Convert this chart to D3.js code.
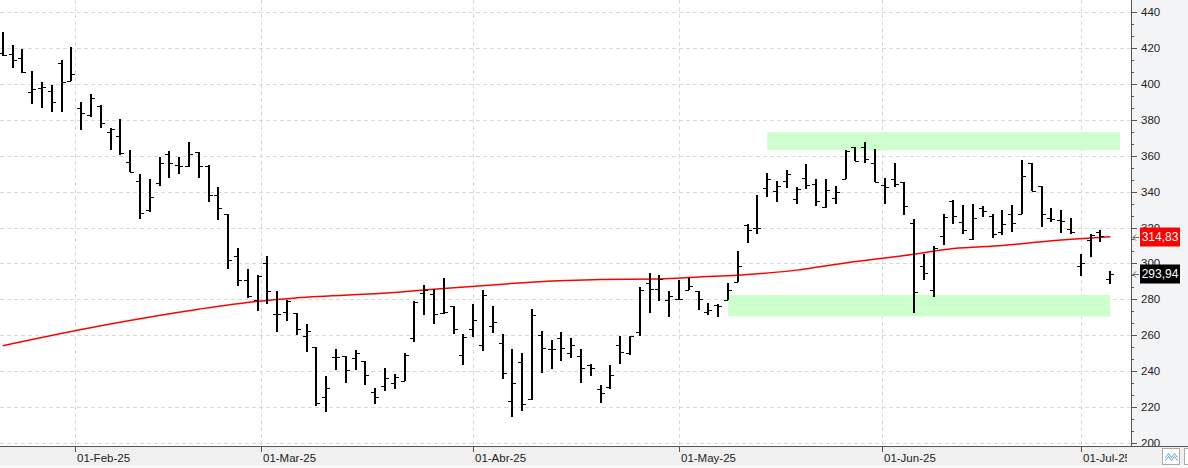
<!DOCTYPE html>
<html>
<head>
<meta charset="utf-8">
<script src="https://cdn.jsdelivr.net/npm/d3@7"></script>
<style>
  html, body { margin: 0; padding: 0; background: #fff; }
  svg { display: block; font-family: "Liberation Sans", Arial, sans-serif; }
</style>
</head>
<body>
<div id="chart"></div>
<script>
// trading days shown on the chart
const dates = [
  "2025-01-22","2025-01-23","2025-01-24","2025-01-27","2025-01-28","2025-01-29","2025-01-30","2025-01-31",
  "2025-02-03","2025-02-04","2025-02-05","2025-02-06","2025-02-07","2025-02-10","2025-02-11","2025-02-12","2025-02-13","2025-02-14",
  "2025-02-18","2025-02-19","2025-02-20","2025-02-21","2025-02-24","2025-02-25","2025-02-26","2025-02-27","2025-02-28",
  "2025-03-03","2025-03-04","2025-03-05","2025-03-06","2025-03-07","2025-03-10","2025-03-11","2025-03-12","2025-03-13","2025-03-14",
  "2025-03-17","2025-03-18","2025-03-19","2025-03-20","2025-03-21","2025-03-24","2025-03-25","2025-03-26","2025-03-27","2025-03-28","2025-03-31",
  "2025-04-01","2025-04-02","2025-04-03","2025-04-04","2025-04-07","2025-04-08","2025-04-09","2025-04-10","2025-04-11",
  "2025-04-14","2025-04-15","2025-04-16","2025-04-17","2025-04-21","2025-04-22","2025-04-23","2025-04-24","2025-04-25","2025-04-28","2025-04-29","2025-04-30",
  "2025-05-01","2025-05-02","2025-05-05","2025-05-06","2025-05-07","2025-05-08","2025-05-09","2025-05-12","2025-05-13","2025-05-14","2025-05-15","2025-05-16",
  "2025-05-19","2025-05-20","2025-05-21","2025-05-22","2025-05-23","2025-05-27","2025-05-28","2025-05-29","2025-05-30",
  "2025-06-02","2025-06-03","2025-06-04","2025-06-05","2025-06-06","2025-06-09","2025-06-10","2025-06-11","2025-06-12","2025-06-13",
  "2025-06-16","2025-06-17","2025-06-18","2025-06-20","2025-06-23","2025-06-24","2025-06-25","2025-06-26","2025-06-27","2025-06-30",
  "2025-07-01","2025-07-02","2025-07-03","2025-07-07"
];

const opens = [
  417.2,416.3,414.4,395.2,397.4,395.7,411.5,401.5,
  386.7,382.6,387.8,373.3,370.7,356.3,345.6,329.6,345.0,360.6,355.0,354.1,361.9,354.4,338.0,327.4,303.9,290.6,279.6,
  300.0,271.7,273.2,272.4,259.4,253.7,225.6,248.0,248.3,247.6,245.6,228.5,231.8,233.3,234.7,258.3,283.5,283.0,272.4,276.1,249.3,
  263.6,254.6,265.3,255.9,223.3,245.4,224.6,260.3,252.2,258.6,250.0,248.5,243.6,230.1,231.1,254.6,250.2,261.9,289.0,285.6,279.7,
  280.1,285.1,284.5,272.8,276.8,279.6,289.8,321.6,319.9,342.1,340.2,346.1,336.0,347.6,344.3,331.5,336.5,347.1,365.0,365.0,355.7,
  343.9,346.7,345.2,322.7,298.8,285.5,315.1,334.7,322.8,313.6,330.6,326.2,317.3,327.3,327.7,355.9,342.8,325.1,324.3,319.3,
  298.4,312.9,317.5,291.1
];
const highs = [
  428.5,421.3,419.1,406.9,400.7,399.1,413.0,420.4,
  389.8,394.1,388.3,375.6,380.6,363.0,349.6,346.9,359.3,362.4,359.1,367.4,362.2,355.0,342.6,327.4,308.8,297.2,293.4,
  303.9,284.6,279.8,272.4,266.5,253.7,237.5,252.2,248.3,251.8,245.6,230.7,241.7,238.4,250.0,278.9,288.1,285.7,291.7,276.1,260.8,
  277.6,285.3,276.5,260.8,252.2,250.4,274.6,262.7,257.7,261.9,258.8,252.2,244.3,232.4,243.4,259.9,259.9,286.8,294.5,293.6,284.7,
  290.8,292.0,284.6,278.1,277.7,289.4,306.8,322.1,337.8,350.2,346.1,351.7,342.4,355.4,347.1,347.1,343.2,363.1,365.0,367.6,363.7,
  347.6,355.7,345.2,324.5,305.5,309.9,327.7,335.4,332.3,332.8,332.1,327.3,329.5,332.6,357.8,355.9,342.8,331.0,329.5,325.4,
  305.5,316.2,318.4,295.9
];
const lows = [
  415.2,408.7,406.1,388.7,386.5,384.3,384.3,401.5,
  374.4,381.5,375.4,363.1,360.4,350.6,324.8,328.7,343.0,347.6,349.8,353.7,347.6,334.3,324.3,297.1,287.7,280.7,273.3,
  277.2,261.8,267.8,260.1,250.7,220.6,217.3,240.8,233.6,240.8,232.5,222.1,229.2,230.3,234.7,256.4,271.1,266.2,271.9,260.8,243.6,
  259.0,251.3,261.4,236.0,214.5,218.2,224.1,239.3,241.2,245.8,247.6,233.8,237.5,222.6,230.0,243.9,249.3,259.6,272.2,279.3,270.5,
  280.1,285.0,274.4,271.3,270.4,279.6,289.8,311.4,316.4,336.9,334.1,341.9,333.0,341.5,331.7,331.0,333.2,347.1,356.9,355.7,345.2,
  333.2,342.4,326.7,272.6,290.7,281.4,310.3,321.7,316.6,313.2,325.8,314.3,315.6,317.3,327.3,340.4,320.3,323.0,317.1,316.6,
  293.1,303.6,311.9,288.8
];
const closes = [
  415.7,413.0,406.5,397.2,398.1,389.6,400.7,405.2,
  383.9,392.2,378.3,374.6,361.7,350.6,328.3,336.7,356.1,356.1,354.4,360.6,354.4,338.0,330.6,302.2,290.6,281.8,293.0,
  284.6,271.7,279.4,263.8,262.7,222.4,230.7,248.0,241.0,250.0,238.2,225.6,236.2,236.6,248.9,278.5,285.3,271.9,273.0,263.6,259.2,
  268.6,282.5,267.6,239.3,233.3,221.9,271.5,252.8,252.2,252.8,254.4,241.7,241.7,227.8,238.2,250.9,259.9,285.0,285.6,291.6,281.9,
  280.1,287.4,280.1,274.0,276.4,285.1,298.6,318.4,319.9,347.1,342.8,349.8,341.5,343.9,334.5,341.0,339.5,362.8,356.9,358.2,345.2,
  342.4,344.3,332.1,284.4,294.9,308.4,325.8,326.4,318.8,325.4,329.1,316.2,322.1,322.5,348.9,340.4,327.7,324.5,323.6,317.5,
  300.5,315.6,315.1,293.94
];

// 200-session moving average, read at a few sessions
const maDates = ["2025-01-22","2025-02-05","2025-02-20","2025-02-28","2025-03-06","2025-03-20","2025-03-27","2025-04-04",
  "2025-04-11","2025-04-21","2025-04-29","2025-05-05","2025-05-09","2025-05-19","2025-05-27","2025-06-04","2025-06-11",
  "2025-06-18","2025-06-26","2025-07-02","2025-07-07"];
const maValues = [254.3,265.4,274.6,279.0,280.9,283.9,286.1,288.5,290.2,291.1,291.4,292.5,293.5,296.3,300.3,304.4,308.3,
  310.0,312.6,314.2,314.83];

// highlighted zones [from, to, low, high]
const zones = [
  ["2025-05-08", "2025-07-07", 270.5, 282.5],
  ["2025-05-14", "2025-07-08", 363, 373]
];

const monthTicks = ["2025-02-01","2025-03-01","2025-04-01","2025-05-01","2025-06-01","2025-07-01"];
const monthLabels = ["01-Feb-25","01-Mar-25","01-Abr-25","01-May-25","01-Jun-25","01-Jul-25"];
const priceTicks = [200,220,240,260,280,300,320,340,360,380,400,420,440];
const lastMA = 314.83;
const lastClose = 293.94;

function renderBarChart(elementId) {
  let width = 1188, height = 468,
    plotRight = 1131, plotBottom = 446;

  let parse = d3.timeParse("%Y-%m-%d");
  let days = dates.map(parse);

  // position of a calendar date in trading-session units
  function sessionPos(s) {
    let d = parse(s);
    let i = d3.bisectRight(days, d) - 1;
    if (i < 0) return 0;
    if (i >= days.length - 1) return days.length - 1 + (d - days[days.length - 1]) / 864e5;
    return i + (d - days[i]) / (days[i + 1] - days[i]);
  }

  let x = d3.scaleLinear()
    .domain([0, dates.length - 1])
    .range([2.7, 1110.3]);

  let y = d3.scaleLinear()
    .domain([200, 440])
    .range([443.3, 11.7]);

  const svg = d3.select(elementId)
    .append("svg")
    .attr("width", width)
    .attr("height", height)
    .attr("viewBox", [0, 0, width, height]);

  svg.append("defs").append("clipPath")
    .attr("id", "plot-clip")
    .append("rect")
    .attr("x", 0).attr("y", 0)
    .attr("width", plotRight).attr("height", plotBottom);

  const plot = svg.append("g").attr("clip-path", "url(#plot-clip)");

  // grid
  plot.append("g")
    .selectAll("line")
    .data(priceTicks)
    .join("line")
    .attr("x1", 0).attr("x2", plotRight)
    .attr("y1", d => Math.round(y(d)) + 0.5)
    .attr("y2", d => Math.round(y(d)) + 0.5)
    .attr("stroke", "#d9d9d9")
    .attr("stroke-dasharray", "4,3");

  plot.append("g")
    .selectAll("line")
    .data(monthTicks)
    .join("line")
    .attr("x1", d => Math.round(x(sessionPos(d))) + 0.5)
    .attr("x2", d => Math.round(x(sessionPos(d))) + 0.5)
    .attr("y1", 0).attr("y2", plotBottom)
    .attr("stroke", "#d9d9d9")
    .attr("stroke-dasharray", "4,3");

  // zones
  plot.append("g")
    .selectAll("rect")
    .data(zones)
    .join("rect")
    .attr("x", d => x(sessionPos(d[0])))
    .attr("width", d => x(sessionPos(d[1])) - x(sessionPos(d[0])))
    .attr("y", d => y(d[3]))
    .attr("height", d => y(d[2]) - y(d[3]))
    .attr("fill", "#ccffcc");

  // moving average
  let maLine = d3.line()
    .x((d, i) => x(sessionPos(maDates[i])))
    .y(d => y(d))
    .curve(d3.curveMonotoneX);

  plot.append("path")
    .datum(maValues)
    .attr("fill", "none")
    .attr("stroke", "#ff0000")
    .attr("stroke-width", 1.5)
    .attr("d", maLine);

  // OHLC bars
  let bars = plot.append("g")
    .selectAll("g")
    .data(d3.range(dates.length))
    .join("g")
    .attr("stroke", "#000")
    .attr("shape-rendering", "crispEdges");

  bars.append("line")
    .attr("x1", i => Math.round(x(i)))
    .attr("x2", i => Math.round(x(i)))
    .attr("y1", i => y(highs[i]))
    .attr("y2", i => y(lows[i]))
    .attr("stroke-width", 2);

  bars.append("line")
    .attr("x1", i => Math.round(x(i)) - 4)
    .attr("x2", i => Math.round(x(i)))
    .attr("y1", i => Math.round(y(opens[i])) + 0.5)
    .attr("y2", i => Math.round(y(opens[i])) + 0.5)
    .attr("stroke-width", 1.5);

  bars.append("line")
    .attr("x1", i => Math.round(x(i)))
    .attr("x2", i => Math.round(x(i)) + 4)
    .attr("y1", i => Math.round(y(closes[i])) + 0.5)
    .attr("y2", i => Math.round(y(closes[i])) + 0.5)
    .attr("stroke-width", 1.5);

  // right price axis
  svg.append("rect")
    .attr("x", plotRight).attr("y", 0)
    .attr("width", width - plotRight).attr("height", plotBottom)
    .attr("fill", "#f3f4f6");

  let minorTicks = d3.range(200, 440, 20).flatMap(v => [v + 20 / 3, v + 40 / 3]);

  const gy = svg.append("g")
    .attr("transform", `translate(${plotRight},0)`)
    .attr("shape-rendering", "crispEdges");

  gy.append("line")
    .attr("x1", 0.5).attr("x2", 0.5)
    .attr("y1", 0).attr("y2", plotBottom)
    .attr("stroke", "#555");

  gy.selectAll(".minor")
    .data(minorTicks)
    .join("line")
    .attr("class", "minor")
    .attr("x1", 0).attr("x2", 3)
    .attr("y1", d => Math.round(y(d)) + 0.5)
    .attr("y2", d => Math.round(y(d)) + 0.5)
    .attr("stroke", "#555");

  gy.selectAll(".major")
    .data(priceTicks)
    .join("line")
    .attr("class", "major")
    .attr("x1", 0).attr("x2", 6)
    .attr("y1", d => Math.round(y(d)) + 0.5)
    .attr("y2", d => Math.round(y(d)) + 0.5)
    .attr("stroke", "#555");

  gy.selectAll("text")
    .data(priceTicks)
    .join("text")
    .attr("x", 10)
    .attr("y", d => y(d))
    .attr("dy", "0.35em")
    .attr("font-size", 11.5)
    .attr("fill", "#222")
    .text(d => d);

  // price tags
  let tags = [[lastMA, "#ff0000"], [lastClose, "#000000"]];
  let tag = svg.append("g")
    .selectAll("g")
    .data(tags)
    .join("g")
    .attr("transform", d => `translate(${plotRight},${Math.round(y(d[0]))})`);

  tag.append("path")
    .attr("d", "M2,0.5H8M2,0.5L5,-2.5M2,0.5L5,3.5")
    .attr("fill", "none")
    .attr("stroke", "#666");

  tag.append("rect")
    .attr("x", 9).attr("y", -9.5)
    .attr("width", 40).attr("height", 19)
    .attr("fill", d => d[1]);

  tag.append("text")
    .attr("x", 29)
    .attr("y", 0)
    .attr("dy", "0.36em")
    .attr("text-anchor", "middle")
    .attr("font-size", 12)
    .attr("fill", "#fff")
    .text(d => d3.format(".2f")(d[0]).replace(".", ","));

  // bottom date axis
  const gx = svg.append("g");

  gx.append("rect")
    .attr("x", 0).attr("y", plotBottom)
    .attr("width", width).attr("height", 19)
    .attr("fill", "#f0f0f0");

  gx.append("rect")
    .attr("x", 0).attr("y", plotBottom + 19)
    .attr("width", width).attr("height", height - plotBottom - 19)
    .attr("fill", "#fafafa");

  gx.append("line")
    .attr("x1", 0).attr("x2", width)
    .attr("y1", plotBottom + 0.5).attr("y2", plotBottom + 0.5)
    .attr("stroke", "#555")
    .attr("shape-rendering", "crispEdges");

  svg.append("defs").append("clipPath")
    .attr("id", "xlab-clip")
    .append("rect")
    .attr("x", 0).attr("y", plotBottom)
    .attr("width", plotRight - 4).attr("height", height - plotBottom);

  let mt = gx.append("g")
    .attr("clip-path", "url(#xlab-clip)")
    .selectAll("g")
    .data(monthTicks)
    .join("g")
    .attr("transform", d => `translate(${Math.round(x(sessionPos(d))) + 0.5},${plotBottom})`);

  mt.append("line")
    .attr("y1", 0).attr("y2", 6)
    .attr("stroke", "#555")
    .attr("shape-rendering", "crispEdges");

  mt.append("text")
    .attr("x", 1.5)
    .attr("y", 12)
    .attr("dy", "0.35em")
    .attr("font-size", 11.5)
    .attr("fill", "#222")
    .text((d, i) => monthLabels[i]);

  // chart-type button
  let btn = gx.append("g")
    .attr("transform", `translate(1162.5,${plotBottom + 2.5})`);

  btn.append("rect")
    .attr("width", 17).attr("height", 16)
    .attr("fill", "#fff")
    .attr("stroke", "#aaa");

  btn.append("path")
    .attr("d", "M3,9L6,5L9,9L12,5L15,9M3,12L6,8L9,12L12,8L15,12")
    .attr("fill", "none")
    .attr("stroke", "#5aa0d8")
    .attr("stroke-width", 1);

  gx.append("rect")
    .attr("x", 1184.5).attr("y", plotBottom + 2.5)
    .attr("width", 10).attr("height", 16)
    .attr("fill", "#fff")
    .attr("stroke", "#aaa");
}

renderBarChart("#chart");
</script>
</body>
</html>
